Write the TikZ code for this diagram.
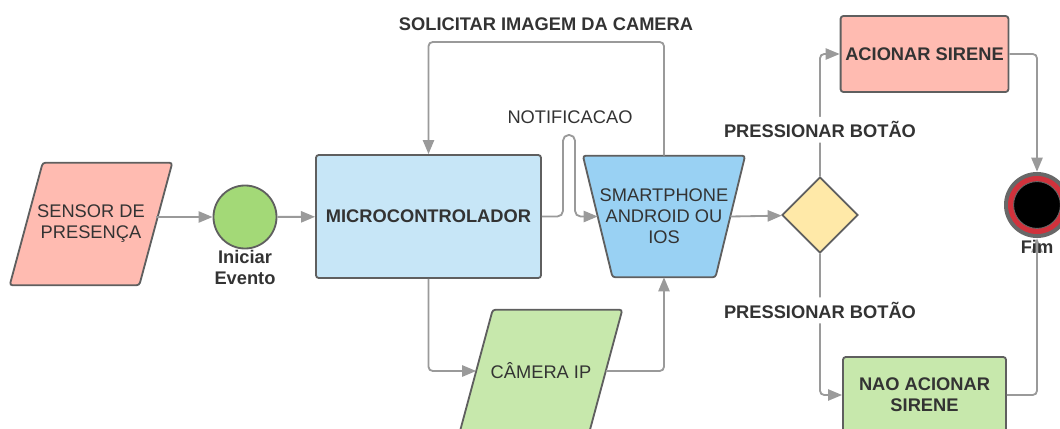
\documentclass[tikz,border=0pt]{standalone}
\usepackage{fontspec}
\setmainfont{Liberation Sans}
\usetikzlibrary{arrows.meta, shapes.geometric, positioning, backgrounds}

\definecolor{txt}{HTML}{333333}
\definecolor{edge}{HTML}{5F5F5F}
\definecolor{wire}{HTML}{9A9A9A}
\definecolor{pinkfill}{HTML}{FFBBB1}
\definecolor{startgreen}{HTML}{A3D977}
\definecolor{microblue}{HTML}{C7E6F7}
\definecolor{phoneblue}{HTML}{99D1F3}
\definecolor{camgreen}{HTML}{C7E8AC}
\definecolor{decyellow}{HTML}{FFE9A8}
\definecolor{ringgrey}{HTML}{686868}
\definecolor{ringred}{HTML}{D1323C}

\begin{document}
\begin{tikzpicture}[x=0.025cm, y=-0.025cm, >={Triangle[length=10pt,width=8pt]},
    every node/.style={font=\fontsize{13}{15}\selectfont, text=txt},
    lbl/.style={font=\fontsize{13}{15}\selectfont\bfseries},
    box/.style={draw=edge, line width=1.3pt, rounded corners=2pt, align=center},
    outline/.style={draw=edge, line width=1.3pt, rounded corners=2pt},
    para/.style={align=center, minimum width=3.225cm, minimum height=3.05cm, inner sep=0},
    flow/.style={draw=wire, line width=1.3pt, ->, rounded corners=3pt}]
  \useasboundingbox (0,0) rectangle (1060,428);

  \node[para] (sensor) at (91,224) {SENSOR DE\\PRESENÇA};
  \node[circle, draw=edge, line width=1.3pt, fill=startgreen, minimum size=1.575cm, inner sep=0] (start) at (245,217) {};
  \node[lbl, below=-3pt of start, align=center] (startlbl) {Iniciar\\Evento};
  \node[box, lbl, fill=microblue, minimum width=5.625cm, minimum height=3.075cm] (micro) at (428.5,216.5) {MICROCONTROLADOR};
  \node[align=center, minimum width=3.3cm, minimum height=3.025cm, inner sep=0] (phone) at (664,216.5) {SMARTPHONE\\ANDROID OU\\IOS};
  \node[para] (cam) at (541,371) {CÂMERA IP};
  \node[diamond, draw=edge, line width=1.3pt, fill=decyellow, minimum width=1.9cm, minimum height=1.9cm, inner sep=0] (dec) at (820,215) {};
  \node[box, lbl, fill=pinkfill, minimum width=4.075cm, minimum height=1.9cm] (siren) at (924.5,54) {ACIONAR SIRENE};
  \node[box, lbl, fill=camgreen, minimum width=4.075cm, minimum height=1.9cm] (nosiren) at (924.5,395) {NAO ACIONAR\\SIRENE};

  % slanted outlines behind the text nodes
  \begin{scope}[on background layer]
    \draw[outline, fill=pinkfill] ([xshift=0.4125cm]sensor.north west) -- ([xshift=0.4125cm]sensor.north east)
      -- ([xshift=-0.4125cm]sensor.south east) -- ([xshift=-0.4125cm]sensor.south west) -- cycle;
    \draw[outline, fill=camgreen] ([xshift=0.4125cm]cam.north west) -- ([xshift=0.4125cm]cam.north east)
      -- ([xshift=-0.4125cm]cam.south east) -- ([xshift=-0.4125cm]cam.south west) -- cycle;
    \draw[outline, fill=phoneblue] ([xshift=-0.37cm]phone.north west) -- ([xshift=0.37cm]phone.north east)
      -- ([xshift=-0.37cm]phone.south east) -- ([xshift=0.37cm]phone.south west) -- cycle;
  \end{scope}

  % end point
  \node[circle, fill=ringgrey, minimum size=1.65cm, inner sep=0] (fim) at (1037,205) {};
  \node[circle, fill=ringred, minimum size=1.45cm, inner sep=0] at (fim) {};
  \node[circle, draw=ringgrey, line width=0.6pt, fill=black, minimum size=1.17cm, inner sep=0] at (fim) {};

  \coordinate (humpL) at (563,135);
  \coordinate (humpR) at (575,135);
  \coordinate (req) at (546,42);

  \draw[flow] (sensor.east |- start.west) -- (start);
  \draw[flow] (start) -- (micro);
  \draw[flow, rounded corners=4pt] (micro.east) -| (humpL) -- (humpR) |- (phone.west);
  \node (notelbl) at (570,117) {NOTIFICACAO};
  \draw[flow] (phone.north) |- (req) -| (micro.north);
  \node[lbl] (reqlbl) at (546,24) {SOLICITAR IMAGEM DA CAMERA};
  \draw[flow] (micro.south) |- (cam.west);
  \draw[flow] (cam.east) -| (phone.south);
  \draw[flow] (phone.east) -- (dec);
  \draw[flow] (dec.north) |- node[lbl, fill=white, pos=0.19] (yeslbl) {PRESSIONAR BOTÃO} (siren.west);
  \draw[flow] (dec.south) |- node[lbl, fill=white, pos=0.2] (nolbl) {PRESSIONAR BOTÃO} (nosiren.west);
  \draw[flow] (siren.east) -| (fim.north);
  \draw[flow] (nosiren.east) -| (fim.south);
  \node[lbl] (fimlbl) at (1037,247) {Fim};
\end{tikzpicture}
\end{document}
